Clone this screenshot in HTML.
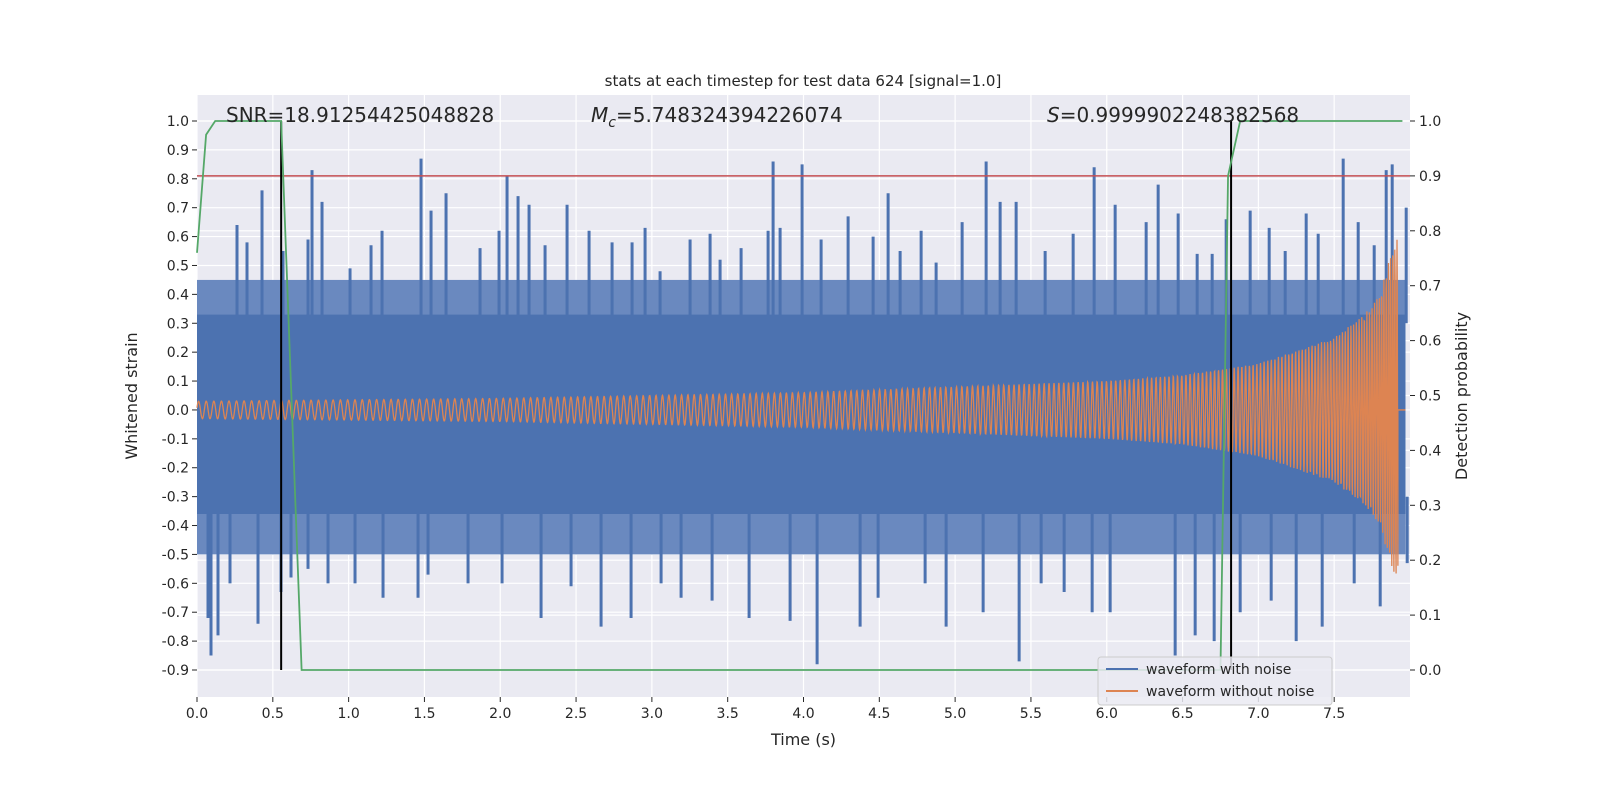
<!DOCTYPE html>
<html><head><meta charset="utf-8"><style>
html,body{margin:0;padding:0;background:#fff;width:1600px;height:800px;overflow:hidden;}
svg{display:block;font-family:"DejaVu Sans","Liberation Sans",sans-serif;}
</style></head><body>
<svg id="chart" width="1600" height="800"></svg>
<script>
const upperSpikesT=[237,247,262,283,308,312,322,350,371,382,421,431,446,480,499,507,518,529,545,567,589,612,632,645,660,690,710,720,741,768,773,780,802,821,848,873,888,900,921,936,962,986,1000,1016,1045,1073,1094,1115,1146,1158,1178,1197,1212,1226,1250,1269,1285,1306,1318,1343,1358,1374,1386,1392,1406].map(x=>(x-197)/151.6);
const upperSpikesV=[0.64,0.58,0.76,0.55,0.59,0.83,0.72,0.49,0.57,0.62,0.87,0.69,0.75,0.56,0.62,0.81,0.74,0.71,0.57,0.71,0.62,0.58,0.58,0.63,0.48,0.59,0.61,0.52,0.56,0.62,0.86,0.63,0.85,0.59,0.67,0.6,0.75,0.55,0.62,0.51,0.65,0.86,0.72,0.72,0.55,0.61,0.84,0.71,0.65,0.78,0.68,0.54,0.54,0.66,0.69,0.63,0.55,0.68,0.61,0.87,0.65,0.57,0.83,0.85,0.7];
const lowerSpikesT=[208,211,218,230,258,281,291,308,328,355,383,418,428,468,502,541,571,601,631,661,681,712,749,790,817,860,878,925,946,983,1019,1041,1064,1092,1110,1175,1195,1214,1240,1271,1296,1322,1354,1380,1407].map(x=>(x-197)/151.6);
const lowerSpikesV=[-0.72,-0.85,-0.78,-0.6,-0.74,-0.63,-0.58,-0.55,-0.6,-0.6,-0.65,-0.65,-0.57,-0.6,-0.6,-0.72,-0.61,-0.75,-0.72,-0.6,-0.65,-0.66,-0.72,-0.73,-0.88,-0.75,-0.65,-0.6,-0.75,-0.7,-0.87,-0.6,-0.63,-0.7,-0.7,-0.85,-0.78,-0.8,-0.7,-0.66,-0.8,-0.75,-0.6,-0.68,-0.53];
const chirpT=[0,2,4,5,6,6.5,7,7.5,7.7,7.8,7.88,7.92];
const chirpAmp=[0.03,0.04,0.06,0.08,0.1,0.12,0.16,0.25,0.33,0.4,0.55,0.6];
const probT=[0,0.06,0.12,0.555,0.69,6.75,6.8,6.88,7.95];
const probV=[0.76,0.975,1.0,1.0,0.0,0.0,0.9,1.0,1.0];
const xTicks=[0,0.5,1,1.5,2,2.5,3,3.5,4,4.5,5,5.5,6,6.5,7,7.5];
const yTicks=[1.0,0.9,0.8,0.7,0.6,0.5,0.4,0.3,0.2,0.1,0.0,-0.1,-0.2,-0.3,-0.4,-0.5,-0.6,-0.7,-0.8,-0.9];
const y2Ticks=[0,0.1,0.2,0.3,0.4,0.5,0.6,0.7,0.8,0.9,1.0];
const threshold=0.81, detections=[0.555,6.82];

const L=197,R=1410,T=95,B=697;
const X=t=>L+t/8*(R-L);
const Y=v=>121+(1.0-v)*(670-121)/1.9;
const Y2=p=>670-p*(670-121);
const svg=document.getElementById('chart');
const NS='http://www.w3.org/2000/svg';
function mk(tag,attrs,parent){const e=document.createElementNS(NS,tag);for(const k in attrs)e.setAttribute(k,attrs[k]);(parent||svg).appendChild(e);return e;}
function txt(s,attrs,parent){const e=mk('text',attrs,parent);e.textContent=s;return e;}

const bg=mk('rect',{x:L,y:T,width:R-L,height:B-T,fill:'#eaeaf2'});


const grid=mk('g',{stroke:'#fff','stroke-width':1.2});


xTicks.forEach(t=>mk('line',{x1:X(t),x2:X(t),y1:T,y2:B},grid));
yTicks.forEach(v=>mk('line',{x1:L,x2:R,y1:Y(v),y2:Y(v)},grid));
y2Ticks.forEach(p=>mk('line',{x1:L,x2:R,y1:Y2(p),y2:Y2(p)},grid));

const wn=mk('g',{});


mk('rect',{x:L,y:Y(0.45),width:X(7.97)-L,height:Y(-0.5)-Y(0.45),fill:'#6a89bf'},wn);
mk('rect',{x:L,y:Y(0.33),width:X(7.97)-L,height:Y(-0.36)-Y(0.33),fill:'#4c72b0'},wn);
upperSpikesT.forEach((t,i)=>mk('line',{x1:X(t),x2:X(t),y1:Y(0.3),y2:Y(upperSpikesV[i]),stroke:'#4c72b0','stroke-width':3},wn));
lowerSpikesT.forEach((t,i)=>mk('line',{x1:X(t),x2:X(t),y1:Y(-0.3),y2:Y(lowerSpikesV[i]),stroke:'#4c72b0','stroke-width':3},wn));

function amp(t){for(let i=1;i<chirpT.length;i++){if(t<=chirpT[i]){const f=(t-chirpT[i-1])/(chirpT[i]-chirpT[i-1]);return chirpAmp[i-1]+f*(chirpAmp[i]-chirpAmp[i-1]);}}return chirpAmp[chirpAmp.length-1];}
let d='',ph=0;const tEnd=chirpT[chirpT.length-1];
for(let t=0;t<=tEnd;t+=0.002){const f=20/Math.pow(1-t/8.0+0.02,0.375);ph+=2*Math.PI*f*0.002;const v=amp(t)*Math.sin(ph);d+=(d?'L':'M')+X(t).toFixed(1)+' '+Y(v).toFixed(1);}
d+='L'+X(tEnd)+' '+Y(0)+'L'+X(7.97)+' '+Y(0);
const ch=mk('path',{d:d,fill:'none',stroke:'#dd8452','stroke-width':1.3});



const th=mk('line',{x1:L,x2:R,y1:Y(threshold),y2:Y(threshold),stroke:'#c44e52','stroke-width':1.5});


detections.forEach(t=>{const l=mk('line',{x1:X(t),x2:X(t),y1:Y2(1),y2:Y2(0),stroke:'#000','stroke-width':2});

});
const pl=mk('polyline',{points:probT.map((t,i)=>X(t)+','+Y2(probV[i])).join(' '),fill:'none',stroke:'#55a868','stroke-width':1.8});



const ax=mk('g',{fill:'#262626','font-size':14});


xTicks.forEach(t=>{mk('line',{x1:X(t),x2:X(t),y1:B,y2:B+5,stroke:'#262626'},ax);txt(t.toFixed(1),{x:X(t),y:B+21,'text-anchor':'middle'},ax);});
yTicks.forEach(v=>{mk('line',{x1:L-5,x2:L,y1:Y(v),y2:Y(v),stroke:'#262626'},ax);txt(v.toFixed(1),{x:L-8,y:Y(v)+5,'text-anchor':'end'},ax);});
y2Ticks.forEach(p=>{mk('line',{x1:R,x2:R+5,y1:Y2(p),y2:Y2(p),stroke:'#262626'},ax);txt(p.toFixed(1),{x:R+9,y:Y2(p)+5},ax);});
const xl=txt('Time (s)',{x:(L+R)/2,y:745,'text-anchor':'middle','font-size':16},ax);

const yl=txt('Whitened strain',{x:137,y:396,'text-anchor':'middle','font-size':16,transform:'rotate(-90 137 396)'},ax);

const y2l=txt('Detection probability',{x:1467,y:396,'text-anchor':'middle','font-size':16,transform:'rotate(-90 1467 396)'},ax);

const tt=txt('stats at each timestep for test data 624 [signal=1.0]',{x:803,y:86,'text-anchor':'middle','font-size':15},ax);

const a1=txt('SNR=18.91254425048828',{x:226,y:122,'font-size':20},ax);

const a2=txt('',{x:591,y:122,'font-size':20},ax);
a2.innerHTML='<tspan font-style="italic">M</tspan><tspan font-style="italic" font-size="14" dy="5">c</tspan><tspan dy="-5">=5.748324394226074</tspan>';

const a3=txt('',{x:1047,y:122,'font-size':20},ax);
a3.innerHTML='<tspan font-style="italic">S</tspan>=0.9999902248382568';


const lg=mk('g',{});


mk('rect',{x:1098,y:657,width:234,height:48,rx:3,fill:'#eaeaf2','fill-opacity':0.85,stroke:'#ccc'},lg);
mk('line',{x1:1106,x2:1138,y1:669,y2:669,stroke:'#4c72b0','stroke-width':2},lg);
txt('waveform with noise',{x:1146,y:674,'font-size':14,fill:'#262626'},lg);
mk('line',{x1:1106,x2:1138,y1:691,y2:691,stroke:'#dd8452','stroke-width':2},lg);
txt('waveform without noise',{x:1146,y:696,'font-size':14,fill:'#262626'},lg);
</script>
</body></html>
